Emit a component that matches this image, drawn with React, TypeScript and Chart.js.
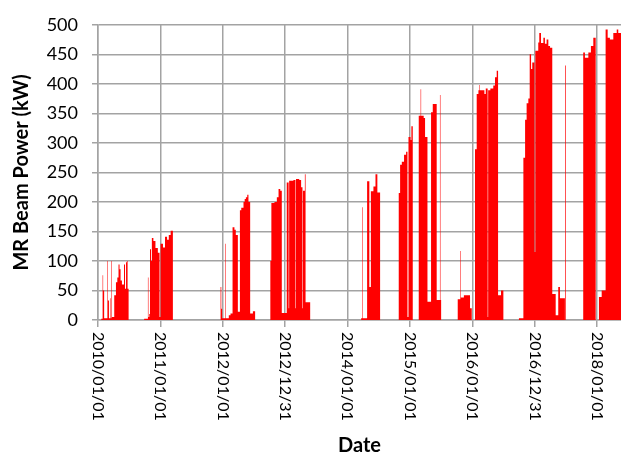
import React, { useEffect, useRef } from "react";
import { Chart, registerables } from "chart.js";

Chart.register(...registerables);

// x axis: day index counted from 2010/01/01, one labelled tick every 365 days
const tickDays = [0, 365, 730, 1095, 1460, 1825, 2190, 2555, 2920];
const tickLabels = [
  "2010/01/01",
  "2011/01/01",
  "2012/01/01",
  "2012/12/31",
  "2014/01/01",
  "2015/01/01",
  "2016/01/01",
  "2016/12/31",
  "2018/01/01",
];
const yTickValues = [0, 50, 100, 150, 200, 250, 300, 350, 400, 450, 500];

// [day index, MR beam power (kW)] – each value holds until the next day index
const run2010: [number, number][] = [
  [0, 0], [19, 2], [27, 76], [30, 50], [36, 3], [53, 100], [56, 3], [58, 33], [64, 3],
  [70, 37], [73, 3], [78, 100], [81, 5], [95, 42], [105, 64], [113, 72], [120, 94],
  [126, 86], [132, 67], [140, 60], [152, 94], [158, 53], [164, 98], [169, 100], [173, 53], [179, 0],
];
const run2011: [number, number][] = [
  [270, 2], [292, 72], [295, 5], [300, 10], [304, 120], [310, 100], [315, 139], [324, 134],
  [336, 122], [350, 114], [360, 5], [366, 129], [380, 123], [392, 141], [404, 136], [414, 144],
  [425, 151], [438, 0],
];
const run2012: [number, number][] = [
  [717, 56], [721, 19], [726, 3], [744, 129], [747, 3], [765, 8], [775, 11], [787, 157],
  [798, 153], [806, 144], [818, 14], [830, 186], [838, 190], [851, 200], [858, 205], [865, 208],
  [873, 212], [880, 200], [890, 11], [906, 15], [919, 0],
];
const run2013: [number, number][] = [
  [1008, 100], [1014, 198], [1032, 200], [1046, 208], [1056, 222], [1066, 219], [1075, 12],
  [1104, 233], [1115, 20], [1118, 236], [1143, 237], [1155, 20], [1158, 239], [1177, 237],
  [1188, 225], [1196, 20], [1199, 219], [1210, 247], [1214, 30], [1241, 0],
];
const run2014: [number, number][] = [
  [1539, 3], [1547, 191], [1550, 3], [1574, 235], [1587, 56], [1596, 218], [1611, 226],
  [1623, 247], [1634, 216], [1650, 0],
];
const run2015: [number, number][] = [
  [1759, 215], [1767, 263], [1777, 268], [1790, 280], [1802, 285], [1810, 5], [1816, 310],
  [1828, 305], [1833, 328], [1841, 0], [1876, 346], [1887, 391], [1890, 346], [1905, 342],
  [1913, 310], [1927, 31], [1948, 352], [1958, 366], [1981, 34], [2000, 381], [2003, 34], [2007, 0],
];
const run2016: [number, number][] = [
  [2104, 35], [2119, 117], [2122, 38], [2140, 42], [2176, 20], [2186, 0],
  [2205, 289], [2215, 383], [2225, 389], [2229, 398], [2232, 389], [2260, 383], [2268, 392],
  [2279, 5], [2282, 389], [2295, 392], [2312, 397], [2322, 411], [2332, 422], [2340, 42],
  [2357, 50], [2371, 0],
];
const run2017: [number, number][] = [
  [2462, 3], [2488, 275], [2498, 339], [2507, 367], [2517, 375], [2525, 450], [2533, 425],
  [2540, 436], [2553, 115], [2558, 456], [2575, 470], [2581, 486], [2591, 469], [2605, 478],
  [2614, 468], [2624, 475], [2634, 464], [2644, 461], [2657, 44], [2677, 8], [2692, 56],
  [2702, 37], [2731, 0], [2733, 431], [2737, 0],
];
const run2018: [number, number][] = [
  [2838, 453], [2848, 444], [2868, 453], [2883, 464], [2897, 478], [2911, 0], [2930, 39],
  [2946, 50], [2969, 492], [2981, 478], [2994, 475], [3014, 486], [3034, 492], [3043, 486],
  [3070, 486],
];

const X_MAX = 3059;
const GRID = "#a3a3a3";
const FONT = "Lato";

const xLabelPlugin = {
  id: "rotatedDateLabels",
  afterDraw(chart: any) {
    const { ctx, scales, chartArea } = chart;
    const xs = scales.x;
    ctx.save();
    ctx.font = `16px ${FONT}`;
    ctx.fillStyle = "#000";
    ctx.textAlign = "left";
    ctx.textBaseline = "middle";
    tickDays.forEach((d, i) => {
      const px = xs.getPixelForValue(d);
      ctx.save();
      ctx.translate(px, chartArea.bottom + 12);
      ctx.rotate(Math.PI / 2);
      ctx.fillText(tickLabels[i], 0, 0);
      ctx.restore();
    });
    ctx.restore();
  },
};

export default function App() {
  const ref = useRef<HTMLCanvasElement | null>(null);
  useEffect(() => {
    if (!ref.current) return;
    const points = [
      ...run2010, ...run2011, ...run2012, ...run2013, ...run2014,
      ...run2015, ...run2016, ...run2017, ...run2018,
    ].map(([x, y]) => ({ x, y }));
    const chart = new Chart(ref.current, {
      type: "line",
      data: {
        datasets: [
          {
            label: "MR Beam Power (kW)",
            data: points,
            stepped: "before",
            fill: "origin",
            backgroundColor: "#ff0000",
            borderColor: "rgba(0,0,0,0)",
            borderWidth: 0,
            pointRadius: 0,
            pointHoverRadius: 0,
            tension: 0,
          },
        ],
      },
      options: {
        animation: false,
        responsive: false,
        maintainAspectRatio: false,
        layout: { padding: { top: 22, left: 0, right: 0, bottom: 0 } },
        plugins: { legend: { display: false }, tooltip: { enabled: false } },
        scales: {
          x: {
            type: "linear",
            min: 0,
            max: X_MAX,
            afterBuildTicks: (s: any) => {
              s.ticks = tickDays.map((v) => ({ value: v }));
            },
            ticks: { display: false },
            grid: { color: GRID, lineWidth: 1.5, tickLength: 7 },
            border: { color: GRID, width: 1.5 },
            title: {
              display: true,
              text: "Date",
              color: "#000",
              font: { family: FONT, size: 20, weight: "bold", lineHeight: 1 },
              padding: { top: 0, bottom: -3 },
            },
            afterFit: (s: any) => {
              s.height = 133;
            },
          },
          y: {
            min: 0,
            max: 500,
            afterBuildTicks: (s: any) => {
              s.ticks = yTickValues.map((v) => ({ value: v }));
            },
            ticks: { color: "#000", font: { family: FONT, size: 18 }, padding: 14 },
            grid: { color: GRID, lineWidth: 1.5, tickLength: 6 },
            border: { color: GRID, width: 1.5 },
            title: {
              display: true,
              text: "MR Beam Power (kW)",
              color: "#000",
              font: { family: FONT, size: 20, weight: "bold", lineHeight: 1.2 },
              padding: { top: 10, bottom: 0 },
            },
            afterFit: (s: any) => {
              s.width = 98;
            },
          },
        },
      },
      plugins: [xLabelPlugin],
    } as any);
    return () => chart.destroy();
  }, []);
  return (
    <div style={{ position: "absolute", left: 0, top: 0, width: 621, height: 453, background: "#fff" }}>
      <canvas ref={ref} width={621} height={453} style={{ display: "block" }} />
    </div>
  );
}
